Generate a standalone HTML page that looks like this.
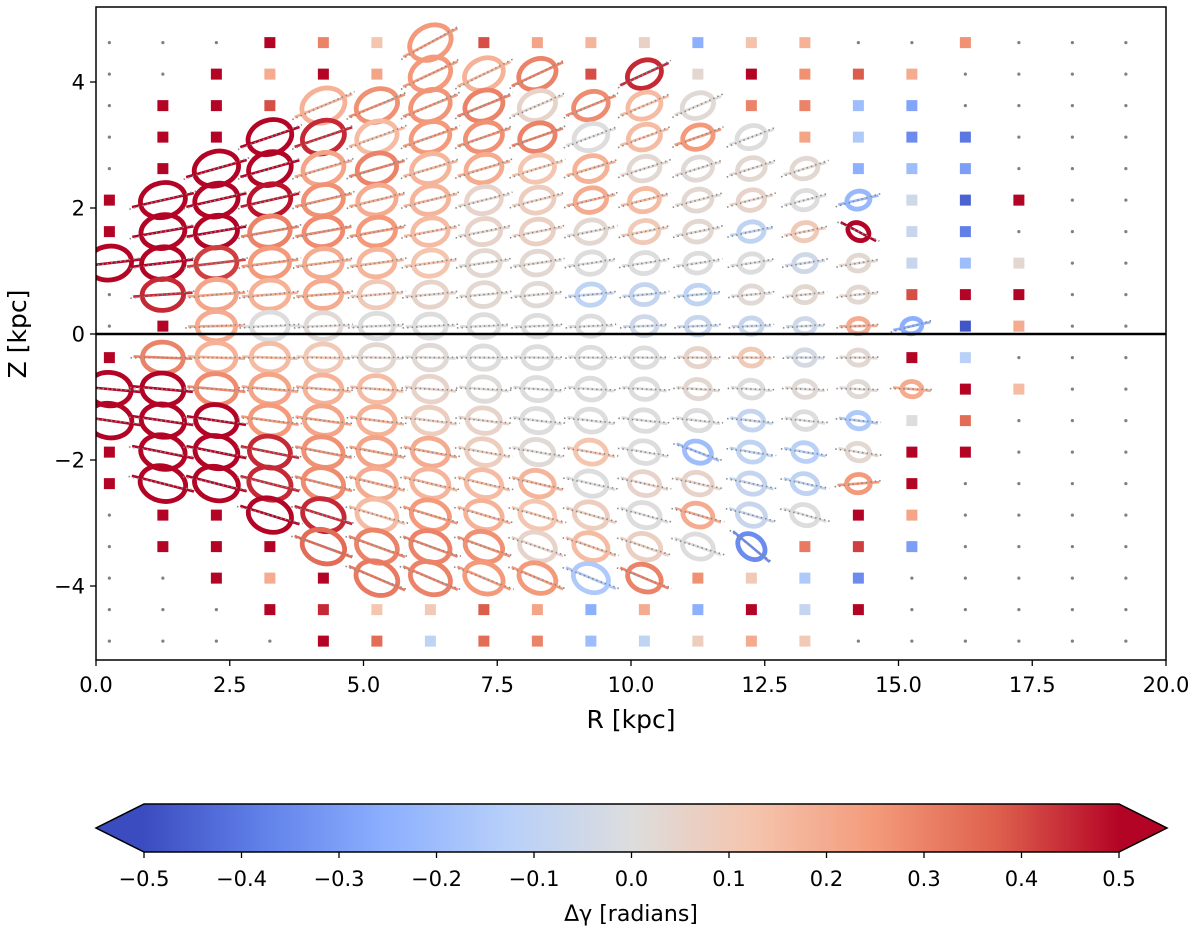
<!DOCTYPE html>
<html><head><meta charset="utf-8">
<style>
body{margin:0;background:#fff;}
svg{display:block;font-family:"DejaVu Sans","Liberation Sans",sans-serif;}
</style></head>
<body>
<svg id="chart" width="1200" height="935" viewBox="0 0 1200 935" xmlns="http://www.w3.org/2000/svg">
<defs>
<linearGradient id="cmap" x1="0" x2="1" y1="0" y2="0">
<stop offset="0" stop-color="rgb(59,76,192)"/>
<stop offset="0.125" stop-color="rgb(98,130,234)"/>
<stop offset="0.25" stop-color="rgb(141,176,254)"/>
<stop offset="0.375" stop-color="rgb(184,208,249)"/>
<stop offset="0.5" stop-color="rgb(221,221,221)"/>
<stop offset="0.625" stop-color="rgb(245,196,173)"/>
<stop offset="0.75" stop-color="rgb(244,154,123)"/>
<stop offset="0.875" stop-color="rgb(222,96,77)"/>
<stop offset="1" stop-color="rgb(180,4,38)"/>
</linearGradient>
<clipPath id="plotclip"><rect x="96" y="7" width="1070" height="653"/></clipPath>
</defs>
<g id="marks" clip-path="url(#plotclip)"></g>
<rect x="96" y="7" width="1070" height="653" fill="none" stroke="#000" stroke-width="1.5"/>
<line x1="96" x2="1166" y1="334" y2="334" stroke="#000" stroke-width="2.5"/>
<g id="axes"></g>
<text x="631" y="728" font-size="25" text-anchor="middle">R [kpc]</text>
<text transform="translate(26,334) rotate(-90)" font-size="25" text-anchor="middle">Z [kpc]</text>
<g id="cbar">
<polygon points="145,804 96,828 145,852" fill="rgb(59,76,192)" stroke="none"/>
<polygon points="1118,804 1167,828 1118,852" fill="rgb(180,4,38)" stroke="none"/>
<rect x="144" y="804" width="975" height="48" fill="url(#cmap)" stroke="none"/>
<polygon points="144,804 1119,804 1167,828 1119,852 144,852 96,828" fill="none" stroke="#000" stroke-width="1.5"/>
</g>
<text x="631" y="921" font-size="22" text-anchor="middle">Δγ [radians]</text>
</svg>
<script>
const rCols=[0.25,1.25,2.25,3.25,4.25,5.25,6.25,7.25,8.25,9.25,10.25,11.25,12.25,13.25,14.25,15.25,16.25,17.25,18.25,19.25];
const zRows=[4.625,4.125,3.625,3.125,2.625,2.125,1.625,1.125,0.625,0.125,-0.375,-0.875,-1.375,-1.875,-2.375,-2.875,-3.375,-3.875,-4.375,-4.875];
const xTicks=[0,2.5,5,7.5,10,12.5,15,17.5,20];
const xTickLabels=["0.0","2.5","5.0","7.5","10.0","12.5","15.0","17.5","20.0"];
const yTicks=[4,2,0,-2,-4];
const yTickLabels=["4","2","0","\u22122","\u22124"];
const cbTicks=[-0.5,-0.4,-0.3,-0.2,-0.1,0,0.1,0.2,0.3,0.4,0.5];
const cbTickLabels=["\u22120.5","\u22120.4","\u22120.3","\u22120.2","\u22120.1","0.0","0.1","0.2","0.3","0.4","0.5"];
// cells: '.' = no data, 's:v' = square, 'e:v[:angle]' = ellipse, v = delta gamma
const cells=[
". . . s:.5 s:.3 s:.12 e:.25 s:.4 s:.22 s:.17 s:.06 s:-.25 s:.13 s:.18 . . s:.27 . . .",
". . s:.5 s:.2 s:.5 s:.22 e:.25 e:.18 e:.3 s:.4 e:.45 s:.03 s:.5 s:.27 s:.38 s:.2 . . . .",
". s:.5 s:.5 s:.4 e:.18 e:.27 e:.26 e:.3 e:.05 e:.28 e:.15 e:.02 s:.3 s:.3 s:-.2 s:-.28 . . . .",
". s:.5 s:.5 e:.5 e:.45 e:.15 e:.25 e:.27 e:.3 e:0 e:.15 e:.25 e:0 s:.22 s:-.15 s:-.35 s:-.4 . . .",
". s:.5 e:.5 e:.5 e:.22 e:.3 e:.17 e:.2 e:.12 e:.18 e:.03 e:.02 e:.03 e:.03 s:-.25 s:-.2 s:-.3 . . .",
"s:.5 e:.5 e:.5 e:.48 e:.27 e:.2 e:.17 e:.05 e:.08 e:.2 e:.15 e:.03 e:.05 e:0 e:-.22 s:-.05 s:-.45 s:.5 . .",
"s:.5 e:.5 e:.5 e:.3 e:.28 e:.25 e:.15 e:.05 e:.07 e:.03 e:.1 e:.03 e:-.1 e:.1 e:.5:-28 s:-.07 s:-.38 . . .",
"e:.5 e:.5 e:.42 e:.25 e:.2 e:.17 e:.12 e:.03 e:.03 e:0 e:0 e:0 e:0 e:-.05 e:.03 s:-.07 s:-.2 s:.03 . .",
". e:.45 e:.22 e:.18 e:.2 e:.1 e:.05 e:.03 e:.02 e:-.1 e:-.08 e:-.1 e:.02 e:.03 e:.03 s:.4 s:.5 s:.5 . .",
". s:.5 e:.2 e:0 e:.02 e:0 e:0 e:0 e:0 e:0 e:-.05 e:-.07 e:-.07 e:-.05 e:.2 e:-.25:12 s:-.48 s:.2 . .",
"s:.5 e:.3 e:.18 e:.15 e:.1 e:.03 e:.02 e:0 e:0 e:0 e:0 e:.05 e:.1 e:-.03 e:.03 s:.5 s:-.12 . . .",
"e:.5 e:.5 e:.28 e:.22 e:.18 e:.15 e:.05 e:.01 e:0 e:0 e:0 e:.03 e:0 e:.02 e:.02 e:.2 s:.5 s:.15 . .",
"e:.5 e:.5 e:.5 e:.25 e:.22 e:.18 e:.08 e:.05 e:0 e:0 e:0 e:0 e:-.08 e:0 e:-.15 s:0 s:.35 . . .",
"s:.5 e:.5 e:.5 e:.45 e:.27 e:.22 e:.2 e:.08 e:.02 e:.12 e:0 e:-.2:-22 e:-.1 e:-.12 e:.03 s:.5 s:.5 . . .",
"s:.5 e:.5 e:.5 e:.45 e:.28 e:.2 e:.17 e:.15 e:.17 e:0 e:.05 e:.05 e:-.08 e:-.1 e:.25:4 s:.5 . . . .",
". s:.5 s:.5 e:.5 e:.45 e:.15 e:.25 e:.18 e:.12 e:.08 e:0 e:.2 e:-.07 e:0 s:.5 s:.22 . . . .",
". s:.5 s:.5 s:.5 e:.35 e:.3 e:.3 e:.27 e:.05 e:.15 e:.07 e:0 e:-.35:-40 s:.32 s:.42 s:-.3 . . . .",
". . s:.5 s:.2 s:.5 e:.32 e:.3 e:.25 e:.25 e:-.15 e:.3 s:.27 s:.1 s:-.15 s:-.35 . . . . .",
". . . s:.5 s:.45 s:.12 s:.1 s:.38 s:.22 s:-.25 s:.2 s:-.25 s:.5 s:-.08 s:.5 . . . . .",
". . . . s:.5 s:.35 s:-.1 s:.35 s:.3 s:-.2 s:-.1 s:.08 s:.2 s:.1 . . . . . ."
];
const NS="http://www.w3.org/2000/svg";
const X0=96,X1=1166,R0=0,R1=20,ZC=334,ZS=63;
function xs(r){return X0+(r-R0)/(R1-R0)*(X1-X0);}
function ys(z){return ZC-z*ZS;}
function cbx(v){return 144+(v+0.5)*975;}
const stops=[[59,76,192],[98,130,234],[141,176,254],[184,208,249],[221,221,221],[245,196,173],[244,154,123],[222,96,77],[180,4,38]];
function cmap(v){let t=Math.max(0,Math.min(1,v+0.5))*8;let i=Math.min(7,Math.floor(t));let f=t-i;const a=stops[i],b=stops[i+1];
return "rgb("+a.map((c,k)=>Math.round(c+(b[k]-c)*f)).join(",")+")";}
function mk(tag,attrs,parent){const e=document.createElementNS(NS,tag);for(const k in attrs)e.setAttribute(k,attrs[k]);parent.appendChild(e);return e;}
const marks=document.getElementById('marks');
cells.forEach((row,ri)=>{
  const toks=row.trim().split(/\s+/);
  toks.forEach((tk,ci)=>{
    const r=rCols[ci],z=zRows[ri];const cx=xs(r),cy=ys(z);
    if(tk==='.'){
      const d=mk('circle',{cx:cx,cy:cy,r:1.6,fill:'#808080'},marks);
      
      
      return;
    }
    const p=tk.split(':');const v=parseFloat(p[1]);const col=cmap(v);
    if(p[0]==='s'){
      const s=mk('rect',{x:cx-5.5,y:cy-5.5,width:11,height:11,fill:col},marks);
      
      
    } else {
      const ang=p.length>2?parseFloat(p[2]):6*z;
      let a=Math.max(10,21+1.3*Math.abs(z)-0.85*r);let b=a*0.76;
      const g=mk('g',{transform:'translate('+cx.toFixed(1)+','+cy.toFixed(1)+') rotate('+(-ang)+')'},marks);
      
      
      mk('ellipse',{cx:0,cy:0,rx:a,ry:b,fill:'none',stroke:col,'stroke-width':4.8},g);
      mk('line',{x1:-a-9,x2:a+9,y1:0,y2:0,stroke:col,'stroke-width':2.6},g);
      mk('line',{x1:-a-12,x2:a+12,y1:1.5,y2:-1.5,stroke:'#888','stroke-width':1.6,'stroke-dasharray':'1.5 3'},g);
    }
  });
});
const axes=document.getElementById('axes');
xTicks.forEach((t,i)=>{
  const x=xs(t);
  const l=mk('line',{x1:x,x2:x,y1:660,y2:666,stroke:'#000','stroke-width':1.3},axes);
  
  
  const tx=mk('text',{x:x,y:692,'font-size':21,'text-anchor':'middle'},axes);tx.textContent=xTickLabels[i];
  
  
});
yTicks.forEach((t,i)=>{
  const y=ys(t);
  const l=mk('line',{x1:90,x2:96,y1:y,y2:y,stroke:'#000','stroke-width':1.3},axes);
  
  
  const tx=mk('text',{x:85,y:y+7.5,'font-size':21,'text-anchor':'end'},axes);tx.textContent=yTickLabels[i];
  
  
});
const cb=document.getElementById('cbar');
cbTicks.forEach((t,i)=>{
  const x=cbx(t);
  const l=mk('line',{x1:x,x2:x,y1:852,y2:858,stroke:'#000','stroke-width':1.3},cb);
  
  
  const tx=mk('text',{x:x,y:886,'font-size':21,'text-anchor':'middle'},cb);tx.textContent=cbTickLabels[i];
  
  
});
</script>
</body></html>
